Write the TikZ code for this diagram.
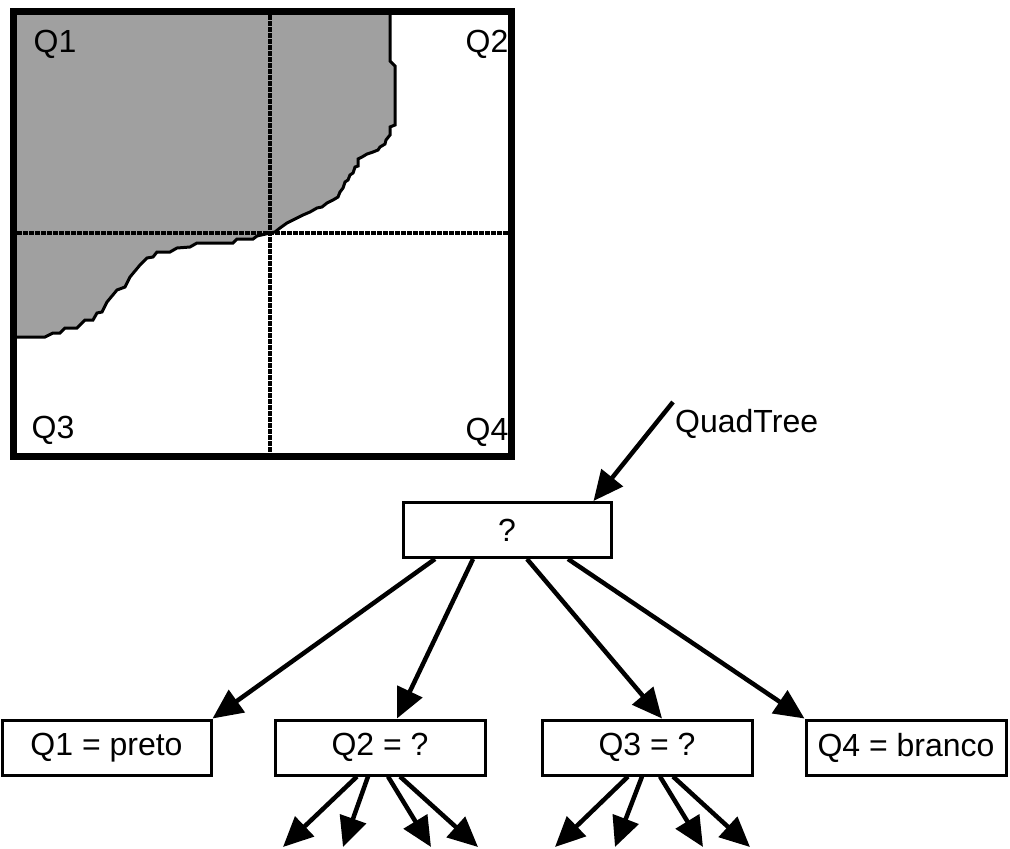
\documentclass[tikz,border=0pt]{standalone}
\usepackage{fontspec}
\setmainfont{Liberation Sans}
\usetikzlibrary{arrows.meta}
\definecolor{regiongray}{HTML}{A0A0A0}

\begin{document}
\begin{tikzpicture}[x=1pt,y=-1pt,
  box/.style={draw, line width=3pt, minimum width=209pt, minimum height=55pt, inner sep=0pt, font=\fontsize{32}{38}\selectfont},
  lbl/.style={inner sep=0pt, font=\fontsize{32}{38}\selectfont},
  arr/.style={line width=4.5pt, -{Triangle[length=30pt,width=27pt]}},
  gridline/.style={line width=3.5pt, dash pattern=on 5pt off 1pt}]
\useasboundingbox (0,0) rectangle (1010,849);

% the image with its four quadrants
\fill[regiongray] (17,15) -- (390,15) -- (390,61) -- (395,66) -- (395,125) -- (390,127) -- (390,135) -- (386,140) -- (385,144) -- (380,147) -- (378,150) -- (373,152) -- (367,154) -- (362,157) -- (358,159) -- (358,166) -- (355,167) -- (353,173) -- (350,175) -- (348,180) -- (345,182) -- (343,188) -- (340,192) -- (338,197) -- (333,200) -- (327,203) -- (322,207) -- (317,208) -- (310,212) -- (303,215) -- (293,220) -- (287,223) -- (280,228) -- (275,232) -- (270,233) -- (257,236) -- (253,239) -- (237,239) -- (233,243) -- (197,243) -- (190,247) -- (177,248) -- (170,252) -- (157,252) -- (153,257) -- (147,258) -- (140,265) -- (130,277) -- (125,287) -- (117,290) -- (107,302) -- (102,312) -- (97,313) -- (93,320) -- (85,320) -- (77,328) -- (65,328) -- (60,333) -- (53,333) -- (45,337) -- (17,337) -- cycle;
\draw[line width=3pt] (390,15) -- (390,61) -- (395,66) -- (395,125) -- (390,127) -- (390,135) -- (386,140) -- (385,144) -- (380,147) -- (378,150) -- (373,152) -- (367,154) -- (362,157) -- (358,159) -- (358,166) -- (355,167) -- (353,173) -- (350,175) -- (348,180) -- (345,182) -- (343,188) -- (340,192) -- (338,197) -- (333,200) -- (327,203) -- (322,207) -- (317,208) -- (310,212) -- (303,215) -- (293,220) -- (287,223) -- (280,228) -- (275,232) -- (270,233) -- (257,236) -- (253,239) -- (237,239) -- (233,243) -- (197,243) -- (190,247) -- (177,248) -- (170,252) -- (157,252) -- (153,257) -- (147,258) -- (140,265) -- (130,277) -- (125,287) -- (117,290) -- (107,302) -- (102,312) -- (97,313) -- (93,320) -- (85,320) -- (77,328) -- (65,328) -- (60,333) -- (53,333) -- (45,337) -- (17,337);
\draw[gridline] (270,15) -- (270,453);
\draw[gridline] (17,233) -- (508,233);
\draw[line width=7pt] (13.5,11.5) rectangle (511.5,456.5);

\node[lbl] (lq1) at (55,44) {Q1};
\node[lbl] (lq2) at (487,44) {Q2};
\node[lbl] (lq3) at (53,430) {Q3};
\node[lbl] (lq4) at (487,432) {Q4};

% the tree
\node[box, minimum width=208pt] (root) at (507,530) {?};
\node[box] (q1) at (106.5,747.5) {Q1 = preto};
\node[box, minimum width=210pt] (q2) at (380,747.5) {Q2 = ?};
\node[box, minimum width=210pt] (q3) at (647,747.5) {Q3 = ?};
\node[box, minimum width=200pt] (q4) at (906,747.5) {Q4 = branco};

\node[lbl, anchor=west] (qt) at (675,424) {QuadTree};
\coordinate (qtstart) at (673,402);
\draw[arr] (qtstart) -- ([xshift=-19pt]root.north east);

\draw[arr] ([xshift=-72pt]root.south) -- (q1.north east);
\draw[arr] ([xshift=-34pt]root.south) -- ([xshift=17pt]q2.north);
\draw[arr] ([xshift=20pt]root.south) -- ([xshift=15pt]q3.north);
\draw[arr] ([xshift=61pt]root.south) -- (q4.north west);

% children of Q2 and Q3
\coordinate (a1) at (283,847);
\coordinate (a2) at (343,847);
\coordinate (a3) at (431,847);
\coordinate (a4) at (478,847);
\coordinate (b1) at (555,847);
\coordinate (b2) at (615,847);
\coordinate (b3) at (703,847);
\coordinate (b4) at (750,847);
\draw[arr] ([xshift=-23pt]q2.south) -- (a1);
\draw[arr] ([xshift=-12pt]q2.south) -- (a2);
\draw[arr] ([xshift=8pt]q2.south) -- (a3);
\draw[arr] ([xshift=20pt]q2.south) -- (a4);
\draw[arr] ([xshift=-19pt]q3.south) -- (b1);
\draw[arr] ([xshift=-5pt]q3.south) -- (b2);
\draw[arr] ([xshift=13pt]q3.south) -- (b3);
\draw[arr] ([xshift=26pt]q3.south) -- (b4);
\end{tikzpicture}
\end{document}
